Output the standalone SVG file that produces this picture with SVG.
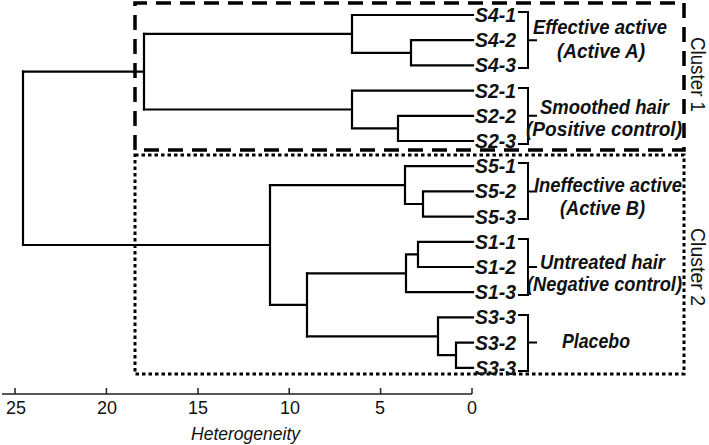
<svg xmlns="http://www.w3.org/2000/svg" width="709" height="445" viewBox="0 0 709 445">
<style>
.ln{fill:none;stroke:#000;stroke-width:2.2;stroke-linecap:square}
.br{fill:none;stroke:#000;stroke-width:2}
.lf{font-family:"Liberation Sans",Arial,sans-serif;font-weight:bold;font-style:italic;font-size:20px;fill:#111}
.gl{font-family:"Liberation Sans",Arial,sans-serif;font-weight:bold;font-style:italic;font-size:21px;fill:#111}
.cl{font-family:"Liberation Sans",Arial,sans-serif;font-size:21px;fill:#111}
.tk{font-family:"Liberation Sans",Arial,sans-serif;font-size:18px;fill:#111;text-anchor:middle}
.ax{font-family:"Liberation Sans",Arial,sans-serif;font-style:italic;font-size:19px;fill:#111}
</style>
<rect width="709" height="445" fill="#fff"/>
<g id="cluster1">
<path d="M135 150 V3 H684 V150 H135" fill="none" stroke="#000" stroke-width="3.5" stroke-dasharray="15 9"/>
<text class="cl" transform="translate(691,37) rotate(90)" textLength="75" lengthAdjust="spacingAndGlyphs">Cluster 1</text>
</g>
<g id="cluster2">
<rect x="135" y="155" width="549" height="219" fill="none" stroke="#000" stroke-width="3" stroke-dasharray="3.5 3"/>
<text class="cl" transform="translate(691,228) rotate(90)" textLength="78" lengthAdjust="spacingAndGlyphs">Cluster 2</text>
</g>
<g id="connectors">
<path class="ln" d="M352 15H473 M411 40.2H473 M411 65.4H473 M411 40.2V65.4 M352 52.8H411 M352 15V52.8 M144 33.9H352"/>
<path class="ln" d="M352 90.6H473 M398 115.8H473 M398 141H473 M398 115.8V141 M352 128.4H398 M352 90.6V128.4 M144 109.5H352"/>
<path class="ln" d="M144 33.9V109.5 M23 71.7H144"/>
<path class="ln" d="M405 166.2H473 M423 191.4H473 M423 216.6H473 M423 191.4V216.6 M405 204H423 M405 166.2V204 M270 185.1H405"/>
<path class="ln" d="M418 241.8H473 M418 267H473 M418 241.8V267 M406 254.4H418 M406 292.2H473 M406 254.4V292.2 M307 273.3H406"/>
<path class="ln" d="M438 317.4H473 M456 342.6H473 M456 367.8H473 M456 342.6V367.8 M438 355.2H456 M438 317.4V355.2 M307 336.3H438"/>
<path class="ln" d="M307 273.3V336.3 M270 304.8H307 M270 185.1V304.8 M23 245H270 M23 71.7V245"/>
</g>
<g id="brackets">
<path class="br" d="M518 12H528V68H518 M528 40.2H537"/>
<path class="br" d="M518 88H528V144H518 M528 115.8H537"/>
<path class="br" d="M518 163H528V219H518 M528 191.4H537"/>
<path class="br" d="M518 239H528V295H518 M528 267H537"/>
<path class="br" d="M518 315H528V371H518 M528 342.6H537"/>
</g>
<g id="leaves">
<text class="lf" x="475" y="22" textLength="41" lengthAdjust="spacingAndGlyphs">S4-1</text>
<text class="lf" x="475" y="47.2" textLength="41" lengthAdjust="spacingAndGlyphs">S4-2</text>
<text class="lf" x="475" y="72.4" textLength="41" lengthAdjust="spacingAndGlyphs">S4-3</text>
<text class="lf" x="475" y="97.6" textLength="41" lengthAdjust="spacingAndGlyphs">S2-1</text>
<text class="lf" x="475" y="122.8" textLength="41" lengthAdjust="spacingAndGlyphs">S2-2</text>
<text class="lf" x="475" y="148" textLength="41" lengthAdjust="spacingAndGlyphs">S2-3</text>
<text class="lf" x="475" y="173.2" textLength="41" lengthAdjust="spacingAndGlyphs">S5-1</text>
<text class="lf" x="475" y="198.4" textLength="41" lengthAdjust="spacingAndGlyphs">S5-2</text>
<text class="lf" x="475" y="223.6" textLength="41" lengthAdjust="spacingAndGlyphs">S5-3</text>
<text class="lf" x="475" y="248.8" textLength="41" lengthAdjust="spacingAndGlyphs">S1-1</text>
<text class="lf" x="475" y="274" textLength="41" lengthAdjust="spacingAndGlyphs">S1-2</text>
<text class="lf" x="475" y="299.2" textLength="41" lengthAdjust="spacingAndGlyphs">S1-3</text>
<text class="lf" x="475" y="324.4" textLength="41" lengthAdjust="spacingAndGlyphs">S3-3</text>
<text class="lf" x="475" y="349.6" textLength="41" lengthAdjust="spacingAndGlyphs">S3-2</text>
<text class="lf" x="475" y="374.8" textLength="41" lengthAdjust="spacingAndGlyphs">S3-3</text>
</g>
<g id="group-s4">
<text class="gl" x="533" y="34" textLength="134" lengthAdjust="spacingAndGlyphs">Effective active</text>
<text class="gl" x="557" y="58" textLength="88" lengthAdjust="spacingAndGlyphs">(Active A)</text>
</g>
<g id="group-s2">
<text class="gl" x="540" y="114" textLength="129" lengthAdjust="spacingAndGlyphs">Smoothed hair</text>
<text class="gl" x="526" y="136" textLength="156" lengthAdjust="spacingAndGlyphs">(Positive control)</text>
</g>
<g id="group-s5">
<text class="gl" x="534" y="192" textLength="148" lengthAdjust="spacingAndGlyphs">Ineffective active</text>
<text class="gl" x="560" y="215" textLength="85" lengthAdjust="spacingAndGlyphs">(Active B)</text>
</g>
<g id="group-s1">
<text class="gl" x="540" y="269" textLength="125" lengthAdjust="spacingAndGlyphs">Untreated hair</text>
<text class="gl" x="527" y="291" textLength="155" lengthAdjust="spacingAndGlyphs">(Negative control)</text>
</g>
<g id="group-s3">
<text class="gl" x="562" y="348" textLength="68" lengthAdjust="spacingAndGlyphs">Placebo</text>
</g>
<g id="axis">
<path d="M2 394H472 M15 388V394 M106.4 388V394 M198 388V394 M289.2 388V394 M380.6 388V394 M472 388V394" fill="none" stroke="#222" stroke-width="1.5"/>
<text class="tk" x="16" y="414">25</text>
<text class="tk" x="107" y="414">20</text>
<text class="tk" x="198" y="414">15</text>
<text class="tk" x="290" y="414">10</text>
<text class="tk" x="380" y="414">5</text>
<text class="tk" x="472" y="414">0</text>
<text class="ax" x="191" y="440" textLength="109" lengthAdjust="spacingAndGlyphs">Heterogeneity</text>
</g>
</svg>
